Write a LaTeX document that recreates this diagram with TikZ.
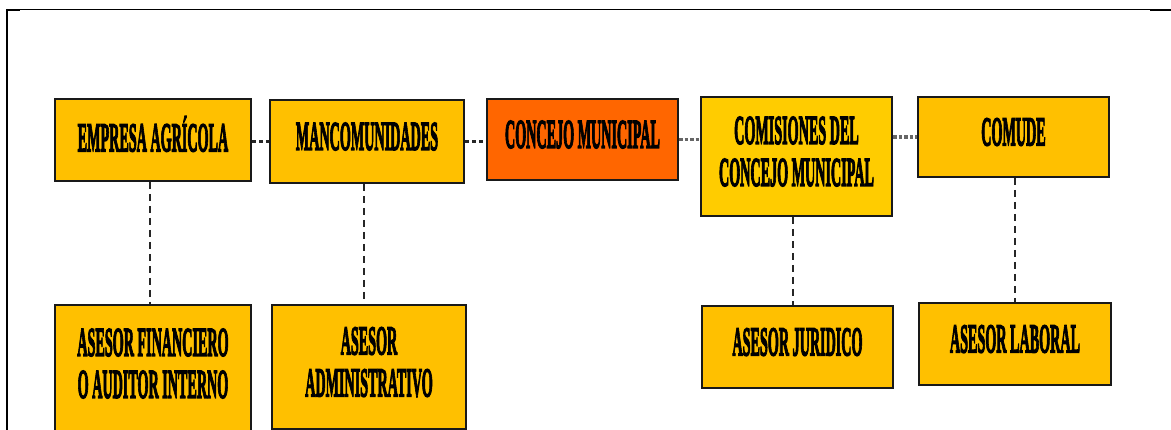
\documentclass[tikz,border=0pt]{standalone}
\usepackage{fontspec}
\newfontfamily\orgfont[FakeBold=4]{Liberation Serif Bold}
\usetikzlibrary{positioning}
\usepackage{xcolor}

\definecolor{oro}{HTML}{FFC000}
\definecolor{amarillo}{HTML}{FFCC00}
\definecolor{naranja}{HTML}{FF6600}

\newcommand{\rotulo}[1]{\scalebox{0.345}[1]{\begin{tabular}{@{}c@{}}#1\end{tabular}}}

\begin{document}
\begin{tikzpicture}[x=1pt, y=-1pt,
    unidad/.style={draw=black!90, line width=2pt, fill=oro, inner sep=0pt,
      font=\orgfont\fontsize{41}{42}\selectfont},
    enlace/.style={draw=black!85, line width=2.2pt, dash pattern=on 4pt off 3pt},
    enlacegris/.style={draw=black!60, line width=3.2pt, dash pattern=on 3.5pt off 2pt},
    vertical/.style={draw=black!85, line width=1.4pt, dash pattern=on 7pt off 5pt}]
    \useasboundingbox (0,0) rectangle (1171,430);
    \clip (0,0) rectangle (1171,430);

    % Frame
    \draw[line width=1pt] (6,9.5) -- (1171,9.5);
    \draw[line width=2pt] (6,10) -- (20,10);
    \draw[line width=2pt] (1150,10) -- (1171,10);
    \draw[line width=2pt] (7,9) -- (7,430);

    % Top row
    \node[unidad, minimum width=196, minimum height=82] (empresa) at (153,140) {\rotulo{EMPRESA AGRÍCOLA}};
    \node[unidad, minimum width=194, minimum height=83] (mancom) at (367,141.5) {\rotulo{MANCOMUNIDADES}};
    \node[unidad, fill=naranja, minimum width=191, minimum height=81] (concejo) at (582.5,139.5) {\rotulo{CONCEJO MUNICIPAL}};
    \node[unidad, fill=amarillo, minimum width=191, minimum height=119] (comisiones) at (796.5,156.5) {\rotulo{COMISIONES DEL\\CONCEJO MUNICIPAL}};
    \node[unidad, minimum width=191, minimum height=80] (comude) at (1013.5,137) {\rotulo{COMUDE}};

    % Bottom row
    \node[unidad, minimum width=196, minimum height=127] (financiero) at (153,368.5) {\rotulo{ASESOR FINANCIERO\\O AUDITOR INTERNO}};
    \node[unidad, minimum width=194, minimum height=124] (administrativo) at (369,367) {\rotulo{ASESOR\\ADMINISTRATIVO}};
    \node[unidad, minimum width=191, minimum height=82] (juridico) at (797.5,347) {\rotulo{ASESOR JURIDICO}};
    \node[unidad, minimum width=192, minimum height=82] (laboral) at (1015,344) {\rotulo{ASESOR LABORAL}};

    % Horizontal links
    \draw[enlace] ([yshift=-1.5]empresa.east) -- ([yshift=-1.5]empresa.east -| mancom.west);
    \draw[enlace] (mancom.east) -- (mancom.east -| concejo.west);
    \draw[enlacegris] (concejo.east) -- (concejo.east -| comisiones.west);
    \draw[enlacegris] (comude.west -| comisiones.east) -- (comude.west);

    % Vertical links
    \draw[vertical] ([xshift=-3]empresa.south) -- ([xshift=-3]financiero.north);
    \draw[vertical] ([xshift=-3]mancom.south) -- ([xshift=-3]mancom.south |- administrativo.north);
    \draw[vertical] ([xshift=-3.5]comisiones.south) -- ([xshift=-3.5]comisiones.south |- juridico.north);
    \draw[vertical] ([xshift=1.5]comude.south) -- ([xshift=1.5]comude.south |- laboral.north);
\end{tikzpicture}
\end{document}
